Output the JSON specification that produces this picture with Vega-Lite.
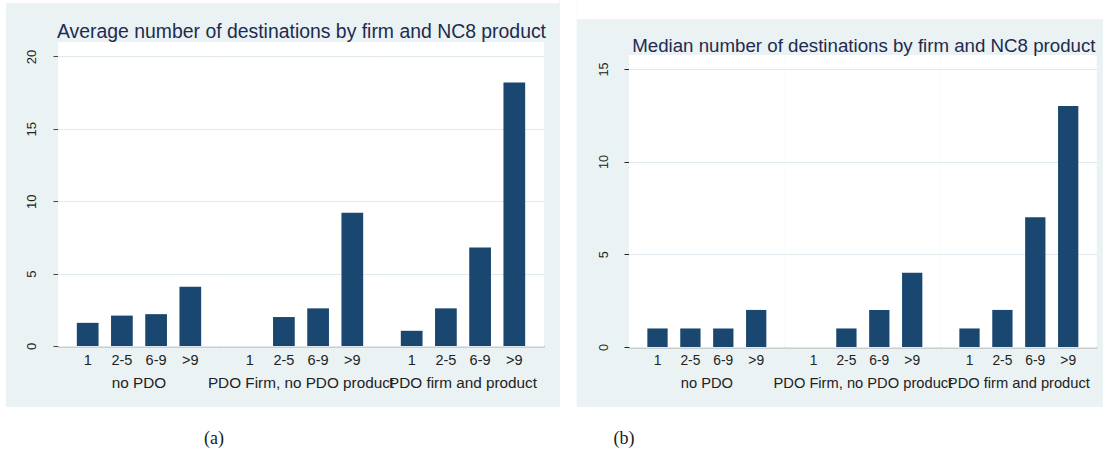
{
  "$schema": "https://vega.github.io/schema/vega-lite/v6.json",
  "padding": 0,
  "background": "#eaf2f3",
  "spacing": 0,
  "config": {
    "view": {"stroke": null, "fill": "white"},
    "concat": {"spacing": 0},
    "font": "Liberation Sans",
    "bar": {"color": "#1a476f"}
  },
  "datasets": {
    "avg": [
      {"firm": "no PDO", "size": "1", "destinations": 1.6},
      {"firm": "no PDO", "size": "2-5", "destinations": 2.1},
      {"firm": "no PDO", "size": "6-9", "destinations": 2.2},
      {"firm": "no PDO", "size": ">9", "destinations": 4.1},
      {"firm": "PDO Firm, no PDO product", "size": "2-5", "destinations": 2.0},
      {"firm": "PDO Firm, no PDO product", "size": "6-9", "destinations": 2.6},
      {"firm": "PDO Firm, no PDO product", "size": ">9", "destinations": 9.2},
      {"firm": "PDO firm and product", "size": "1", "destinations": 1.05},
      {"firm": "PDO firm and product", "size": "2-5", "destinations": 2.6},
      {"firm": "PDO firm and product", "size": "6-9", "destinations": 6.8},
      {"firm": "PDO firm and product", "size": ">9", "destinations": 18.2}
    ],
    "med": [
      {"firm": "no PDO", "size": "1", "destinations": 1},
      {"firm": "no PDO", "size": "2-5", "destinations": 1},
      {"firm": "no PDO", "size": "6-9", "destinations": 1},
      {"firm": "no PDO", "size": ">9", "destinations": 2},
      {"firm": "PDO Firm, no PDO product", "size": "2-5", "destinations": 1},
      {"firm": "PDO Firm, no PDO product", "size": "6-9", "destinations": 2},
      {"firm": "PDO Firm, no PDO product", "size": ">9", "destinations": 4},
      {"firm": "PDO firm and product", "size": "1", "destinations": 1},
      {"firm": "PDO firm and product", "size": "2-5", "destinations": 2},
      {"firm": "PDO firm and product", "size": "6-9", "destinations": 7},
      {"firm": "PDO firm and product", "size": ">9", "destinations": 13}
    ]
  },
  "vconcat": [
    {
      "spacing": 0,
      "hconcat": [
        {"width": 6, "height": 407, "view": {"fill": "white", "stroke": null}, "data": {"values": []}, "mark": "point"},
        {
          "spacing": 0,
          "vconcat": [
            {"width": 553.3, "height": 3, "view": {"fill": "white", "stroke": null}, "data": {"values": []}, "mark": "point"},
            {"width": 1, "height": 18, "view": {"fill": "#eaf2f3", "stroke": null}, "data": {"values": []}, "mark": "point"},
            {
              "spacing": 0,
              "hconcat": [
                {"width": 19, "height": 1, "view": {"fill": "#eaf2f3", "stroke": null}, "data": {"values": []}, "mark": "point"},
                {
                  "data": {"name": "avg"},
                  "title": {"text": "Average number of destinations by firm and NC8 product", "fontSize": 19.4, "fontWeight": "normal", "color": "#1e2b4f", "anchor": "middle", "frame": "bounds", "dx": 17, "baseline": "alphabetic", "offset": -15},
                  "spacing": {"column": -1},
                  "facet": {
                    "column": {
                      "field": "firm", "type": "nominal",
                      "sort": ["no PDO", "PDO Firm, no PDO product", "PDO firm and product"],
                      "header": {"title": null, "labelOrient": "bottom", "labelFontSize": 15.3, "labelColor": "#222", "labelPadding": 9, "labelFont": "Liberation Sans"}
                    }
                  },
                  "spec": {
                    "width": 162,
                    "height": 304,
                    "mark": {"type": "bar"},
                    "encoding": {
                      "x": {
                        "field": "size", "type": "nominal",
                        "scale": {"domain": ["1", "2-5", "6-9", ">9"], "paddingInner": 0.365, "paddingOuter": 0.55},
                        "axis": {"title": null, "labelAngle": 0, "ticks": false, "labelPadding": 7, "labelFontSize": 14.5, "labelColor": "#222", "domainColor": "#666", "domainWidth": 1.3, "grid": false, "zindex": 1}
                      },
                      "y": {
                        "field": "destinations", "type": "quantitative",
                        "scale": {"domain": [0, 21], "nice": false},
                        "axis": {"title": null, "values": [0, 5, 10, 15, 20], "labelAngle": -90, "labelAlign": "center", "labelBaseline": "alphabetic", "labelPadding": 18, "labelFontSize": 13, "labelColor": "#222", "tickSize": 5, "tickColor": "#444", "domainColor": "#444", "gridColor": "#dfe8ed", "grid": true}
                      }
                    }
                  }
                }
              ]
            }
          ]
        },
        {"width": 16.7, "height": 407, "view": {"fill": "white", "stroke": null}, "data": {"values": []}, "mark": "point"},
        {
          "spacing": 0,
          "vconcat": [
            {"width": 527, "height": 19, "view": {"fill": "white", "stroke": null}, "data": {"values": []}, "mark": "point"},
            {"width": 1, "height": 18, "view": {"fill": "#eaf2f3", "stroke": null}, "data": {"values": []}, "mark": "point"},
            {
              "spacing": 0,
              "hconcat": [
                {"width": 19, "height": 1, "view": {"fill": "#eaf2f3", "stroke": null}, "data": {"values": []}, "mark": "point"},
                {
                  "data": {"name": "med"},
                  "title": {"text": "Median number of destinations by firm and NC8 product", "fontSize": 18.7, "fontWeight": "normal", "color": "#1e2b4f", "anchor": "middle", "frame": "bounds", "dx": 17, "baseline": "alphabetic", "offset": -15.7},
                  "spacing": {"column": -1},
                  "facet": {
                    "column": {
                      "field": "firm", "type": "nominal",
                      "sort": ["no PDO", "PDO Firm, no PDO product", "PDO firm and product"],
                      "header": {"title": null, "labelOrient": "bottom", "labelFontSize": 14.7, "labelColor": "#222", "labelPadding": 9, "labelFont": "Liberation Sans"}
                    }
                  },
                  "spec": {
                    "width": 155.7,
                    "height": 292,
                    "mark": {"type": "bar"},
                    "encoding": {
                      "x": {
                        "field": "size", "type": "nominal",
                        "scale": {"domain": ["1", "2-5", "6-9", ">9"], "paddingInner": 0.383, "paddingOuter": 0.558},
                        "axis": {"title": null, "labelAngle": 0, "ticks": false, "labelPadding": 6, "labelFontSize": 13.8, "labelColor": "#222", "domainColor": "#666", "domainWidth": 1.3, "grid": false, "zindex": 1}
                      },
                      "y": {
                        "field": "destinations", "type": "quantitative",
                        "scale": {"domain": [0, 15.75], "nice": false},
                        "axis": {"title": null, "values": [0, 5, 10, 15], "labelAngle": -90, "labelAlign": "center", "labelBaseline": "alphabetic", "labelPadding": 17, "labelFontSize": 12.6, "labelColor": "#222", "tickSize": 5, "tickColor": "#222", "domainColor": "#222", "gridColor": "#dfe8ed", "grid": true}
                      }
                    }
                  }
                }
              ]
            }
          ]
        }
      ]
    },
    {
      "width": 1103,
      "height": 47,
      "view": {"fill": "white", "stroke": null},
      "data": {"values": [{"caption": "(a)"}, {"caption": "(b)"}]},
      "mark": {"type": "text", "font": "Liberation Serif", "fontSize": 18, "color": "#1a1a1a", "dy": 8},
      "encoding": {
        "x": {"field": "caption", "type": "nominal", "scale": {"type": "point", "range": [214, 624], "padding": 0}, "axis": null},
        "text": {"field": "caption"}
      }
    }
  ]
}
